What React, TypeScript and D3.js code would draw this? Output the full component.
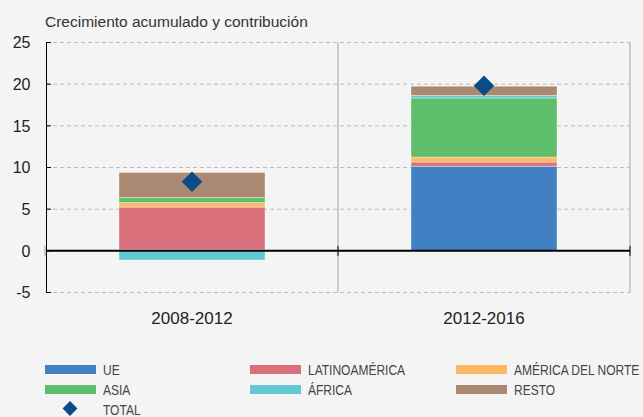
import React, { useEffect, useRef } from 'react';
import * as d3 from 'd3';

const periods = ['2008-2012', '2012-2016'];
const regions = ['UE', 'LATINOAMÉRICA', 'AMÉRICA DEL NORTE', 'ASIA', 'ÁFRICA', 'RESTO'];
const ue = [0.15, 10.15];
const latinoamerica = [5.1, 0.5];
const americaNorte = [0.55, 0.6];
const asia = [0.6, 7.1];
const africa = [-1.1, 0.3];
const resto = [3.0, 1.1];
const total = [8.3, 19.8];
const yTicks = [-5, 0, 5, 10, 15, 20, 25];

const colors = ['#4180c2', '#d9707c', '#fdb863', '#5fbe6b', '#63c9d0', '#ab8871'];
const totalColor = '#0b4c87';

const App = () => {
  const ref = useRef<SVGSVGElement>(null);

  useEffect(() => {
    const width = 643;
    const height = 417;
    const font = 'Liberation Sans, Arial, sans-serif';
    const svg = d3.select(ref.current);
    svg.selectAll('*').remove();

    svg.append('rect').attr('width', width).attr('height', height).attr('fill', '#f4f4f4');

    const series = [ue, latinoamerica, americaNorte, asia, africa, resto];
    const rows = periods.map((p, i) => {
      const r: any = { period: p };
      regions.forEach((k, j) => (r[k] = series[j][i]));
      return r;
    });

    const x = d3.scaleBand().domain(periods).range([46, 630]).padding(0);
    const y = d3.scaleLinear().domain([-5, 25]).range([292.5, 42.5]);
    const barW = x.bandwidth() * 0.5;

    // title
    svg.append('text')
      .attr('x', 45).attr('y', 26.5)
      .attr('font-family', font)
      .attr('font-size', 15.5).attr('fill', '#333')
      .text('Crecimiento acumulado y contribución');

    // grid
    svg.append('g').selectAll('line')
      .data(yTicks.filter(d => d !== 0))
      .enter().append('line')
      .attr('x1', 46).attr('x2', 630)
      .attr('y1', d => y(d)).attr('y2', d => y(d))
      .attr('stroke', '#bdbdbd').attr('stroke-dasharray', '4,3');

    // category separators
    svg.append('g').selectAll('line')
      .data(periods)
      .enter().append('line')
      .attr('x1', d => x(d)! + x.bandwidth()).attr('x2', d => x(d)! + x.bandwidth())
      .attr('y1', y(25)).attr('y2', y(-5))
      .attr('stroke', '#a3a3a3');

    // bars
    const stack = d3.stack<any>().keys(regions).offset(d3.stackOffsetDiverging);
    const layers = stack(rows);
    svg.append('g').selectAll('g')
      .data(layers)
      .enter().append('g')
      .attr('fill', (d, i) => colors[i])
      .selectAll('rect')
      .data(d => d)
      .enter().append('rect')
      .attr('x', d => x(d.data.period)! + (x.bandwidth() - barW) / 2)
      .attr('width', barW)
      .attr('y', d => y(Math.max(d[0], d[1])))
      .attr('height', d => Math.abs(y(d[0]) - y(d[1])))
      .attr('stroke', 'rgba(255,255,255,0.35)')
      .attr('stroke-width', 1);

    // zero line
    svg.append('line')
      .attr('x1', 46).attr('x2', 630)
      .attr('y1', y(0)).attr('y2', y(0))
      .attr('stroke', '#000').attr('stroke-width', 2);
    svg.append('g').selectAll('line')
      .data(periods)
      .enter().append('line')
      .attr('x1', d => x(d)! + x.bandwidth()).attr('x2', d => x(d)! + x.bandwidth())
      .attr('y1', y(0) - 5).attr('y2', y(0) + 5)
      .attr('stroke', '#000').attr('stroke-width', 1);

    // y axis
    svg.append('line')
      .attr('x1', 46.5).attr('x2', 46.5)
      .attr('y1', y(25)).attr('y2', y(-5))
      .attr('stroke', '#000');
    svg.append('line')
      .attr('x1', 45).attr('x2', 45)
      .attr('y1', y(0) - 5).attr('y2', y(0) + 5)
      .attr('stroke', '#999');
    svg.append('g').selectAll('line')
      .data(yTicks)
      .enter().append('line')
      .attr('x1', 46).attr('x2', 51)
      .attr('y1', d => y(d)).attr('y2', d => y(d))
      .attr('stroke', '#000');
    svg.append('g').selectAll('text')
      .data(yTicks)
      .enter().append('text')
      .attr('x', 30.5).attr('y', d => y(d))
      .attr('dy', '0.36em')
      .attr('text-anchor', 'end')
      .attr('font-family', font)
      .attr('font-size', 16).attr('fill', '#222')
      .text(d => d);

    // x labels
    svg.append('g').selectAll('text')
      .data(periods)
      .enter().append('text')
      .attr('x', d => x(d)! + x.bandwidth() / 2).attr('y', 324)
      .attr('text-anchor', 'middle')
      .attr('font-family', font)
      .attr('font-size', 17).attr('fill', '#222')
      .text(d => d);

    // totals
    svg.append('g').selectAll('path')
      .data(periods)
      .enter().append('path')
      .attr('d', d3.symbol().type(d3.symbolSquare).size(210)())
      .attr('transform', (d, i) => `translate(${x(d)! + x.bandwidth() / 2},${y(total[i])}) rotate(45)`)
      .attr('fill', totalColor);

    // legend (condensed look: squeeze the text horizontally)
    const colX = [45, 250, 456];
    const rowTop = [365, 385];
    const legend = svg.append('g');
    regions.forEach((k, i) => {
      const lx = colX[i % 3];
      const ly = rowTop[Math.floor(i / 3)];
      legend.append('rect')
        .attr('x', lx).attr('y', ly).attr('width', 51).attr('height', 9)
        .attr('fill', colors[i]);
      legend.append('text')
        .attr('transform', `translate(${lx + 58},${ly + 9.8}) scale(0.8,1)`)
        .attr('font-family', font).attr('font-size', 15).attr('fill', '#444')
        .text(k);
    });
    legend.append('path')
      .attr('d', d3.symbol().type(d3.symbolSquare).size(110)())
      .attr('transform', `translate(70,408.5) rotate(45)`)
      .attr('fill', totalColor);
    legend.append('text')
      .attr('transform', `translate(103,414.5) scale(0.8,1)`)
      .attr('font-family', font).attr('font-size', 15).attr('fill', '#444')
      .text('TOTAL');
  }, []);

  return (
    <svg ref={ref} width={643} height={417}
      style={{ position: 'absolute', left: 0, top: 0, display: 'block' }} />
  );
};

export default App;
